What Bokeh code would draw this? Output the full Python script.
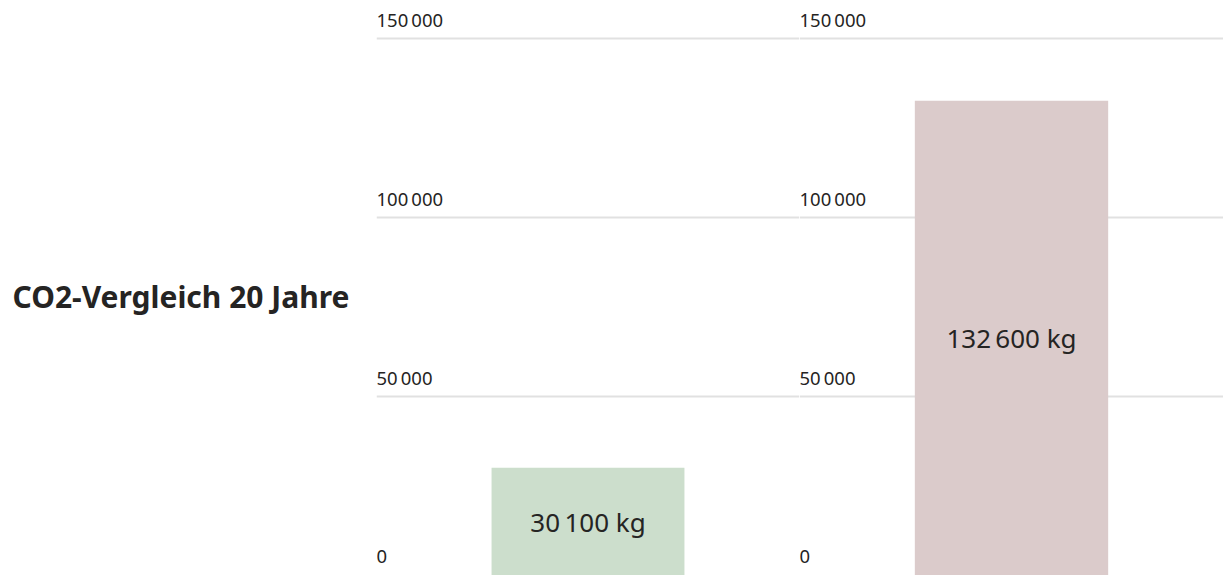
from bokeh.plotting import figure
from bokeh.models import Range1d, FixedTicker, ColumnDataSource, Label
from bokeh.layouts import row
from bokeh.core.properties import value
from bokeh.embed import file_html
from bokeh.resources import INLINE

# ---- data ----
title_text = "CO2-Vergleich 20 Jahre"
values = [30100, 132600]
colors = ["#ccdecc", "#dbcbcb"]
ticks = [0, 50000, 100000, 150000]
tick_labels = ["0", "50\u202f000", "100\u202f000", "150\u202f000"]
bar_labels = ["30\u202f100 kg", "132\u202f600 kg"]

FONT = "Noto Sans"
TEXT_COLOR = "#252423"
H = 575
Y_MAX = 160600


def make_panel(v, color, label, width):
    p = figure(width=width, height=H, output_backend="svg", toolbar_location=None,
               x_range=Range1d(0, 1), y_range=Range1d(0, Y_MAX),
               min_border=0, min_border_left=0, min_border_right=0,
               min_border_top=0, min_border_bottom=0)
    p.outline_line_color = None
    p.xaxis.visible = False
    p.yaxis.visible = False
    p.xgrid.visible = False
    p.ygrid.ticker = FixedTicker(ticks=ticks)
    p.ygrid.grid_line_color = "#e1e1e1"
    p.ygrid.grid_line_width = 2
    p.background_fill_color = "white"
    p.border_fill_color = "white"

    src = ColumnDataSource(dict(x=[0.0] * len(ticks), y=ticks, t=tick_labels))
    p.text(x="x", y="y", text="t", source=src, text_align="left",
           text_baseline="alphabetic", y_offset=-19,
           text_font=value(FONT), text_font_size="18.5px", text_color=TEXT_COLOR)

    p.vbar(x=[0.5], top=[v], bottom=0, width=0.456, fill_color=color, line_color=None)
    p.text(x=[0.5], y=[v / 2], text=[label], text_align="center",
           text_baseline="middle", text_font=value(FONT), text_font_size="26px",
           text_color=TEXT_COLOR)
    return p


# title panel
t = figure(width=376, height=H, output_backend="svg", toolbar_location=None,
           x_range=Range1d(0, 376), y_range=Range1d(0, H),
           min_border=0, min_border_left=0, min_border_right=0,
           min_border_top=0, min_border_bottom=0)
t.outline_line_color = None
t.axis.visible = False
t.grid.visible = False
t.add_layout(Label(x=12, y=H - 296, text=title_text, text_align="left",
                   text_baseline="middle", text_font="Noto Sans",
                   text_font_size="30px", text_font_style="bold",
                   text_color=TEXT_COLOR))

p1 = make_panel(values[0], colors[0], bar_labels[0], 423)
p2 = make_panel(values[1], colors[1], bar_labels[1], 424)

layout = row(t, p1, p2, spacing=0)
open("out.html", "w").write(file_html(layout, INLINE))
